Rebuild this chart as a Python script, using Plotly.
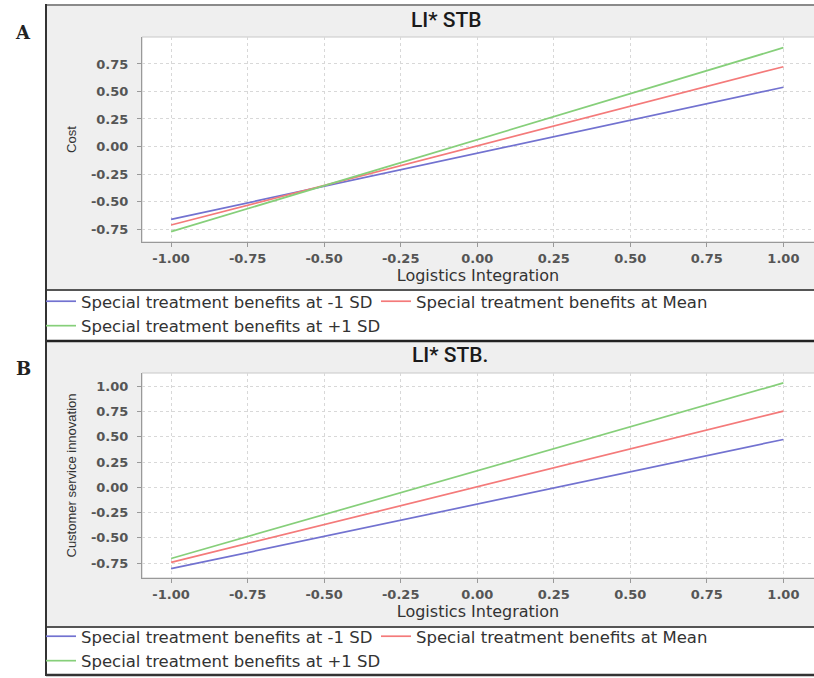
import plotly.graph_objects as go

W, H = 814, 678

# ---------------- data ----------------
x_vals = [-1.0, 1.0]
series_names = [
    "Special treatment benefits at -1 SD",
    "Special treatment benefits at Mean",
    "Special treatment benefits at +1 SD",
]
series_colors = ["#7272d0", "#f47a7a", "#86cf7a"]

# Panel A: Cost
a_low = [-0.662, 0.538]
a_mean = [-0.714, 0.725]
a_high = [-0.774, 0.898]

# Panel B: Customer service innovation
b_low = [-0.806, 0.473]
b_mean = [-0.744, 0.753]
b_high = [-0.705, 1.033]

x_ticks = [-1.0, -0.75, -0.5, -0.25, 0.0, 0.25, 0.5, 0.75, 1.0]
x_ticklabels = ["-1.00", "-0.75", "-0.50", "-0.25", "0.00", "0.25", "0.50", "0.75", "1.00"]
a_yticks = [-0.75, -0.5, -0.25, 0.0, 0.25, 0.5, 0.75]
a_yticklabels = ["-0.75", "-0.50", "-0.25", "0.00", "0.25", "0.50", "0.75"]
b_yticks = [-0.75, -0.5, -0.25, 0.0, 0.25, 0.5, 0.75, 1.0]
b_yticklabels = ["-0.75", "-0.50", "-0.25", "0.00", "0.25", "0.50", "0.75", "1.00"]


def px(x):
    return min(1.0, max(0.0, x / W))


def py(y):
    return min(1.0, max(0.0, 1 - y / H))


fig = go.Figure()

for vals, name, col in zip([a_low, a_mean, a_high], series_names, series_colors):
    fig.add_trace(go.Scatter(x=x_vals, y=vals, mode="lines", name=name,
                             line=dict(color=col, width=1.7),
                             xaxis="x", yaxis="y", legend="legend"))
for vals, name, col in zip([b_low, b_mean, b_high], series_names, series_colors):
    fig.add_trace(go.Scatter(x=x_vals, y=vals, mode="lines", name=name,
                             line=dict(color=col, width=1.7),
                             xaxis="x2", yaxis="y2", legend="legend2"))

tickfont = dict(family="DejaVu Sans", size=13, color="#555555", weight="bold")
titlefont_x = dict(family="DejaVu Sans", size=16, color="#333333")
titlefont_y = dict(family="Liberation Sans", size=13, color="#333333")
legendfont = dict(family="DejaVu Sans", size=16.5, color="#333333")

common_x = dict(range=[-1.095, 1.10], tickvals=x_ticks, ticktext=x_ticklabels,
                showgrid=True, gridcolor="#d8d8d8", griddash="3px,3px", gridwidth=1,
                zeroline=False, showline=True, linecolor="#999999", linewidth=1,
                ticks="outside", ticklen=4, tickcolor="#999999", tickfont=tickfont)
common_y = dict(showgrid=True, gridcolor="#d8d8d8", griddash="3px,3px", gridwidth=1,
                zeroline=False, showline=True, linecolor="#999999", linewidth=1,
                ticks="outside", ticklen=4, tickcolor="#999999", tickfont=tickfont,
                ticklabelstandoff=6)

plot_l, plot_r = 142, 814
a_top, a_bot = 37, 242
b_top, b_bot = 373, 578

fig.update_layout(
    width=W, height=H,
    margin=dict(l=0, r=0, t=0, b=0),
    paper_bgcolor="white",
    plot_bgcolor="rgba(0,0,0,0)",
    xaxis=dict(common_x, domain=[px(plot_l), px(plot_r)], anchor="y",
               title=dict(text="Logistics Integration", font=titlefont_x, standoff=4)),
    yaxis=dict(common_y, domain=[py(a_bot), py(a_top)], anchor="x",
               range=[-0.868, 0.995], tickvals=a_yticks, ticktext=a_yticklabels,
               title=dict(text="Cost", font=titlefont_y, standoff=11)),
    xaxis2=dict(common_x, domain=[px(plot_l), px(plot_r)], anchor="y2",
                title=dict(text="Logistics Integration", font=titlefont_x, standoff=4)),
    yaxis2=dict(common_y, domain=[py(b_bot), py(b_top)], anchor="x2",
                range=[-0.898, 1.131], tickvals=b_yticks, ticktext=b_yticklabels,
                title=dict(text="Customer service innovation", font=titlefont_y, standoff=11)),
    legend=dict(orientation="h", x=px(41), y=py(284), xanchor="left", yanchor="top",
                entrywidth=290, bgcolor="rgba(0,0,0,0)", font=legendfont),
    legend2=dict(orientation="h", x=px(41), y=0, xanchor="left", yanchor="bottom",
                 entrywidth=290, bgcolor="rgba(0,0,0,0)", font=legendfont),
    showlegend=True,
)

shapes = []
# gray panel backgrounds
shapes.append(dict(type="rect", xref="paper", yref="paper", x0=px(46), x1=1, y0=py(290), y1=py(5),
                   fillcolor="#efefef", line=dict(width=0), layer="below"))
shapes.append(dict(type="rect", xref="paper", yref="paper", x0=px(46), x1=1, y0=py(627), y1=py(341),
                   fillcolor="#efefef", line=dict(width=0), layer="below"))
# white plot areas
shapes.append(dict(type="rect", xref="paper", yref="paper", x0=px(plot_l), x1=1.002, y0=py(a_bot), y1=py(a_top),
                   fillcolor="white", line=dict(color="#c8c8c8", width=1), layer="below"))
shapes.append(dict(type="rect", xref="paper", yref="paper", x0=px(plot_l), x1=1.002, y0=py(b_bot), y1=py(b_top),
                   fillcolor="white", line=dict(color="#c8c8c8", width=1), layer="below"))
# frame lines
for y, col, w in [(5, "#8a8a8a", 2), (290, "#555555", 2), (341, "#222222", 2.5),
                  (627, "#555555", 2), (675, "#333333", 2.5)]:
    shapes.append(dict(type="line", xref="paper", yref="paper", x0=px(46), x1=1, y0=py(y), y1=py(y),
                       line=dict(color=col, width=w)))
shapes.append(dict(type="line", xref="paper", yref="paper", x0=px(46), x1=px(46), y0=py(676), y1=py(4),
                   line=dict(color="#333333", width=2)))
fig.update_layout(shapes=shapes)

annotations = [
    dict(text="LI* STB", x=px(447), y=py(20), xref="paper", yref="paper", showarrow=False,
         xanchor="center", yanchor="middle",
         font=dict(family="Roboto, Liberation Sans", size=21, color="#1a1a1a", weight=500)),
    dict(text="LI* STB.", x=px(450), y=py(355), xref="paper", yref="paper", showarrow=False,
         xanchor="center", yanchor="middle",
         font=dict(family="Roboto, Liberation Sans", size=21, color="#1a1a1a", weight=500)),
    dict(text="<b>A</b>", x=px(23), y=py(32), xref="paper", yref="paper", showarrow=False,
         xanchor="center", yanchor="middle",
         font=dict(family="DejaVu Serif", size=18, color="#222222")),
    dict(text="<b>B</b>", x=px(23), y=py(368), xref="paper", yref="paper", showarrow=False,
         xanchor="center", yanchor="middle",
         font=dict(family="DejaVu Serif", size=18, color="#222222")),
]
fig.update_layout(annotations=annotations)

# remove the default 8px page margin so the figure fills the 814x678 window exactly
fig.write_html("out.html", config={"displayModeBar": False},
               post_script="document.body.style.margin='0';")
